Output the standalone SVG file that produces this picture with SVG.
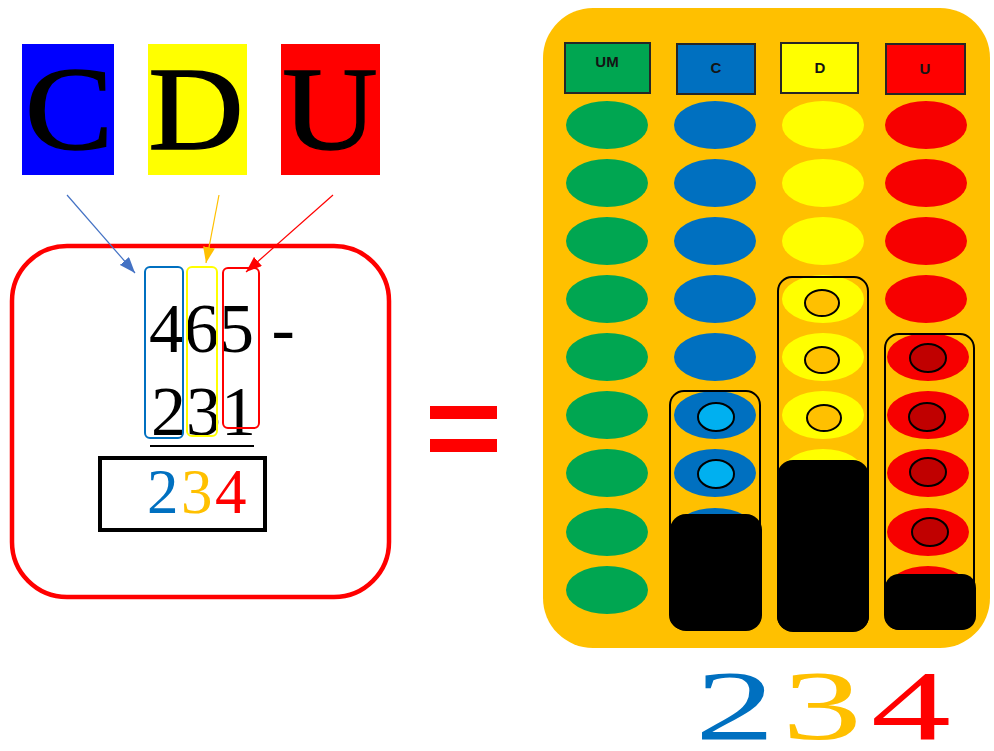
<svg xmlns="http://www.w3.org/2000/svg" width="994" height="751" viewBox="0 0 994 751">
<style>
.big{font-family:"Liberation Serif","Times New Roman",serif;}
.hdr{font-family:"Liberation Sans",Arial,sans-serif;font-weight:bold;font-size:15px;fill:#141414;text-anchor:middle;}
.col{fill:none;stroke-width:2;}
.ov{fill:none;stroke:#000;stroke-width:2;}
.blk{fill:#000;}
.gE{fill:#00A651;}
.bE{fill:#0070C0;}
.yE{fill:#FFFF00;}
.rE{fill:#F70000;}
.hb{stroke:#262626;stroke-width:2;}
.let{font-size:118px;text-anchor:middle;fill:#000;stroke:#000;stroke-width:1.5;}
</style>
<defs>
<marker id="mb" markerUnits="userSpaceOnUse" markerWidth="16" markerHeight="12" refX="16" refY="6" orient="auto"><path d="M0,0 L16,6 L0,12 z" fill="#4472C4"/></marker>
<marker id="my" markerUnits="userSpaceOnUse" markerWidth="16" markerHeight="12" refX="16" refY="6" orient="auto"><path d="M0,0 L16,6 L0,12 z" fill="#FFC000"/></marker>
<marker id="mr" markerUnits="userSpaceOnUse" markerWidth="16" markerHeight="12" refX="16" refY="6" orient="auto"><path d="M0,0 L16,6 L0,12 z" fill="#FF0000"/></marker>
</defs>
<rect width="994" height="751" fill="#fff"/>

<g id="label-C">
<rect x="22" y="44" width="92" height="131" fill="#0000FF"/>
<text class="big let" transform="translate(69,149) scale(1.12,1)">C</text>
</g>
<g id="label-D">
<rect x="148" y="44" width="99" height="131" fill="#FFFF00"/>
<text class="big let" transform="translate(196,149) scale(1.12,1)">D</text>
</g>
<g id="label-U">
<rect x="281" y="44" width="99" height="131" fill="#FF0000"/>
<text class="big let" transform="translate(330,149) scale(1.12,1)">U</text>
</g>

<g id="operation">
<rect x="12" y="246" width="377" height="351" rx="55" fill="#fff" stroke="#FF0000" stroke-width="4.5"/>
<text class="big" x="149" y="352" font-size="70" fill="#000" xml:space="preserve">465 -</text>
<text class="big" x="151" y="435" font-size="70" fill="#000">231</text>
<line x1="150" y1="446" x2="254" y2="446" stroke="#000" stroke-width="2"/>
<rect x="100" y="458" width="165" height="72" fill="none" stroke="#000" stroke-width="4"/>
<text class="big" x="147" y="513" font-size="63" letter-spacing="2.5"><tspan fill="#0070C0">2</tspan><tspan fill="#FFC000">3</tspan><tspan fill="#FF0000">4</tspan></text>
<rect class="col" x="145" y="267" width="38" height="171" rx="5" stroke="#0070C0"/>
<rect class="col" x="187" y="267" width="30" height="169" rx="5" stroke="#FFFF00"/>
<rect class="col" x="223" y="268" width="36" height="160" rx="5" stroke="#FF0000"/>
</g>

<g id="connectors">
<line x1="67" y1="195" x2="135" y2="273" stroke="#4472C4" stroke-width="1.2" marker-end="url(#mb)"/>
<line x1="219" y1="195" x2="206" y2="263" stroke="#FFC000" stroke-width="1.2" marker-end="url(#my)"/>
<line x1="333" y1="195" x2="246" y2="272" stroke="#FF0000" stroke-width="1.2" marker-end="url(#mr)"/>
</g>

<g id="equals">
<rect x="430" y="406" width="67" height="13" fill="#FF0000"/>
<rect x="430" y="439" width="67" height="13" fill="#FF0000"/>
</g>

<g id="abacus">
<rect x="543" y="8" width="447" height="640" rx="50" fill="#FFC000"/>
<rect class="hb" x="565" y="43" width="85" height="50" fill="#00A651"/>
<rect class="hb" x="677" y="44" width="78" height="50" fill="#0070C0"/>
<rect class="hb" x="781" y="43" width="77" height="50" fill="#FFFF00"/>
<rect class="hb" x="886" y="44" width="79" height="50" fill="#FF0000"/>
<text class="hdr" x="607" y="67" font-size="13">UM</text>
<text class="hdr" x="716" y="73" fill="#0b1a40">C</text>
<text class="hdr" x="820" y="73">D</text>
<text class="hdr" x="925" y="74">U</text>
<g id="col-UM">
<ellipse class="gE" cx="607" cy="125" rx="41" ry="24"/>
<ellipse class="gE" cx="607" cy="183" rx="41" ry="24"/>
<ellipse class="gE" cx="607" cy="241" rx="41" ry="24"/>
<ellipse class="gE" cx="607" cy="299" rx="41" ry="24"/>
<ellipse class="gE" cx="607" cy="357" rx="41" ry="24"/>
<ellipse class="gE" cx="607" cy="415" rx="41" ry="24"/>
<ellipse class="gE" cx="607" cy="473" rx="41" ry="24"/>
<ellipse class="gE" cx="607" cy="532" rx="41" ry="24"/>
<ellipse class="gE" cx="607" cy="590" rx="41" ry="24"/>
</g>
<g id="col-C">
<ellipse class="bE" cx="715" cy="125" rx="41" ry="24"/>
<ellipse class="bE" cx="715" cy="183" rx="41" ry="24"/>
<ellipse class="bE" cx="715" cy="241" rx="41" ry="24"/>
<ellipse class="bE" cx="715" cy="299" rx="41" ry="24"/>
<ellipse class="bE" cx="715" cy="357" rx="41" ry="24"/>
<ellipse class="bE" cx="715" cy="415" rx="41" ry="24"/>
<ellipse class="bE" cx="715" cy="473" rx="41" ry="24"/>
<ellipse class="bE" cx="715" cy="532" rx="41" ry="24"/>
<ellipse class="bE" cx="715" cy="590" rx="41" ry="24"/>
<rect class="ov" x="670" y="391" width="90" height="238" rx="14"/>
<ellipse cx="716" cy="417" rx="18" ry="14" fill="#00B0F0" stroke="#000" stroke-width="2"/>
<ellipse cx="716" cy="474" rx="18" ry="14" fill="#00B0F0" stroke="#000" stroke-width="2"/>
<rect class="blk" x="670" y="514" width="92" height="117" rx="16"/>
</g>
<g id="col-D">
<ellipse class="yE" cx="823" cy="125" rx="41" ry="24"/>
<ellipse class="yE" cx="823" cy="183" rx="41" ry="24"/>
<ellipse class="yE" cx="823" cy="241" rx="41" ry="24"/>
<ellipse class="yE" cx="823" cy="299" rx="41" ry="24"/>
<ellipse class="yE" cx="823" cy="357" rx="41" ry="24"/>
<ellipse class="yE" cx="823" cy="415" rx="41" ry="24"/>
<ellipse class="yE" cx="823" cy="473" rx="41" ry="24"/>
<ellipse class="yE" cx="823" cy="532" rx="41" ry="24"/>
<ellipse class="yE" cx="823" cy="590" rx="41" ry="24"/>
<rect class="ov" x="778" y="277" width="90" height="353" rx="14"/>
<ellipse cx="822" cy="303" rx="17" ry="13" fill="#FFC000" stroke="#000" stroke-width="2"/>
<ellipse cx="822" cy="360" rx="17" ry="13" fill="#FFC000" stroke="#000" stroke-width="2"/>
<ellipse cx="824" cy="418" rx="17" ry="13" fill="#FFC000" stroke="#000" stroke-width="2"/>
<rect class="blk" x="777" y="460" width="92" height="172" rx="16"/>
</g>
<g id="col-U">
<ellipse class="rE" cx="926" cy="125" rx="41" ry="24"/>
<ellipse class="rE" cx="926" cy="183" rx="41" ry="24"/>
<ellipse class="rE" cx="926" cy="241" rx="41" ry="24"/>
<ellipse class="rE" cx="926" cy="299" rx="41" ry="24"/>
<ellipse class="rE" cx="928" cy="357" rx="41" ry="24"/>
<ellipse class="rE" cx="928" cy="415" rx="41" ry="24"/>
<ellipse class="rE" cx="928" cy="473" rx="41" ry="24"/>
<ellipse class="rE" cx="928" cy="532" rx="41" ry="24"/>
<ellipse class="rE" cx="928" cy="590" rx="41" ry="24"/>
<rect class="ov" x="885" y="334" width="89" height="295" rx="14"/>
<ellipse cx="928" cy="358" rx="18" ry="14" fill="#C00000" stroke="#000" stroke-width="2"/>
<ellipse cx="927" cy="417" rx="18" ry="14" fill="#C00000" stroke="#000" stroke-width="2"/>
<ellipse cx="928" cy="472" rx="18" ry="14" fill="#C00000" stroke="#000" stroke-width="2"/>
<ellipse cx="930" cy="532" rx="18" ry="14" fill="#C00000" stroke="#000" stroke-width="2"/>
<rect class="blk" x="885" y="574" width="91" height="56" rx="14"/>
</g>
</g>

<g id="result">
<text class="big" transform="translate(735,739) scale(1.6,1)" font-size="100" text-anchor="middle" fill="#0070C0">2</text>
<text class="big" transform="translate(822,739) scale(1.6,1)" font-size="100" text-anchor="middle" fill="#FFC000">3</text>
<text class="big" transform="translate(911,739) scale(1.6,1)" font-size="100" text-anchor="middle" fill="#FF0000">4</text>
</g>
</svg>
